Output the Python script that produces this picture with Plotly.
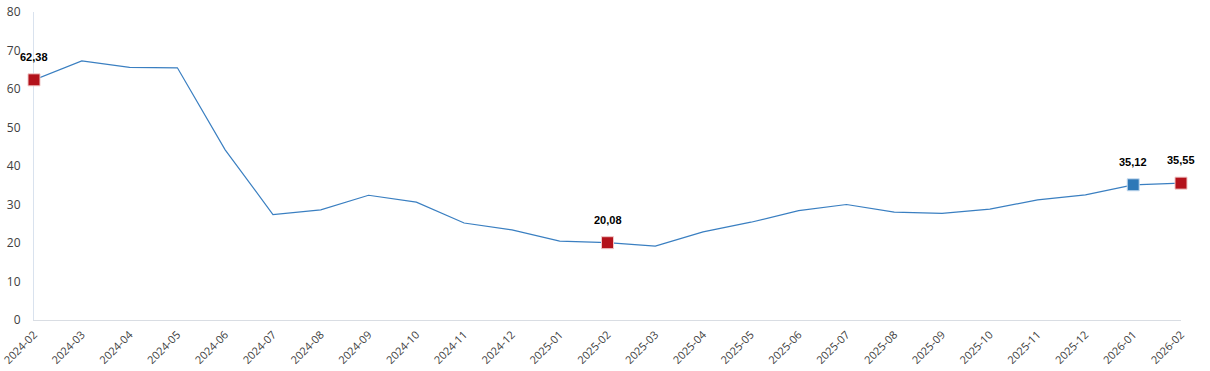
import plotly.graph_objects as go

months = ["2024-02","2024-03","2024-04","2024-05","2024-06","2024-07","2024-08","2024-09",
          "2024-10","2024-11","2024-12","2025-01","2025-02","2025-03","2025-04","2025-05",
          "2025-06","2025-07","2025-08","2025-09","2025-10","2025-11","2025-12","2026-01","2026-02"]
values = [62.38, 67.3, 65.6, 65.5, 44.2, 27.4, 28.6, 32.4, 30.6, 25.2, 23.4, 20.5, 20.08,
          19.2, 22.9, 25.4, 28.4, 30.0, 28.0, 27.7, 28.8, 31.2, 32.5, 35.12, 35.55]

hl_red = ["2024-02", "2025-02", "2026-02"]
hl_blue = ["2026-01"]
yticks = [0, 10, 20, 30, 40, 50, 60, 70, 80]

fig = go.Figure()
fig.add_trace(go.Scatter(x=months, y=values, mode="lines", cliponaxis=False,
                         line=dict(color="#3a7fc1", width=1.2), showlegend=False, hoverinfo="skip"))

red_y = [values[months.index(m)] for m in hl_red]
blue_y = [values[months.index(m)] for m in hl_blue]
fig.add_trace(go.Scatter(x=hl_red, y=red_y, mode="markers", cliponaxis=False,
                         marker=dict(symbol="square", size=12, color="#b3121b",
                                     line=dict(color="#f0c8c8", width=1)), showlegend=False))
fig.add_trace(go.Scatter(x=hl_blue, y=blue_y, mode="markers", cliponaxis=False,
                         marker=dict(symbol="square", size=12, color="#2e78b7",
                                     line=dict(color="#c8dcf0", width=1)), showlegend=False))

for m, v in zip(hl_red + hl_blue, red_y + blue_y):
    fig.add_annotation(x=m, y=v, text="<b>" + f"{v:.2f}".replace(".", ",") + "</b>",
                       showarrow=False, yshift=23,
                       font=dict(family="Liberation Sans", size=11, color="#000000"),
                       xanchor="center", yanchor="middle")

fig.update_layout(
    width=1210, height=371,
    margin=dict(l=34, r=29, t=12, b=51),
    paper_bgcolor="white", plot_bgcolor="white",
    font=dict(family="Open Sans", size=12, color="#404040"),
    xaxis=dict(type="category", tickangle=-45, showgrid=False, showline=True,
               linecolor="#d9dde3", linewidth=1, ticks="", range=[0, 24], automargin=False,
               layer="below traces", ticklabelstandoff=3,
               tickfont=dict(size=11, color="#404040")),
    yaxis=dict(range=[0, 80], tickvals=yticks, showgrid=False, showline=True,
               linecolor="#d9e2ee", linewidth=1, ticks="", zeroline=False, automargin=False,
               layer="below traces", ticklabelstandoff=10,
               tickfont=dict(size=12, color="#404040")),
)

fig.write_html("out.html")
